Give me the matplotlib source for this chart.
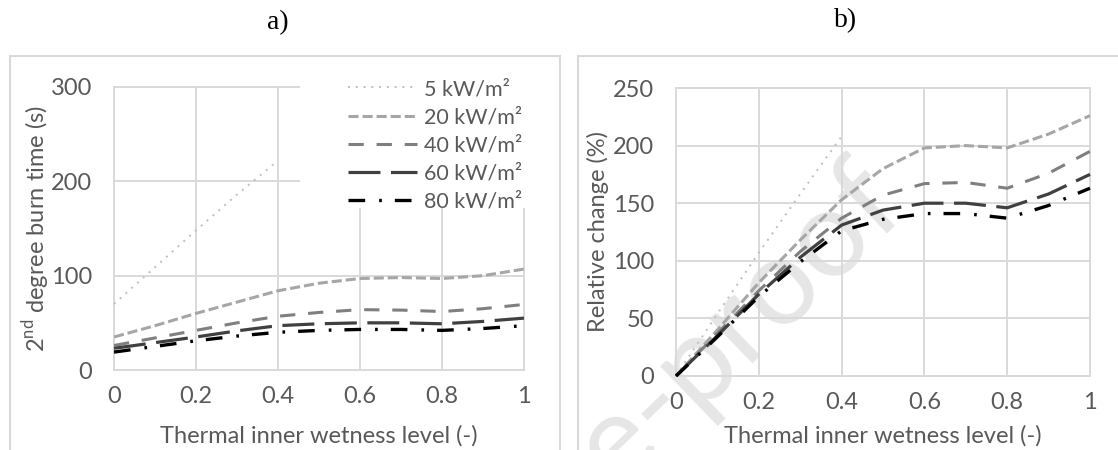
import matplotlib
matplotlib.use('Agg')
import matplotlib.pyplot as plt
from matplotlib import patches

plt.rcParams['font.family'] = ['Lato', 'DejaVu Sans']

# wetness level (x axis)
wet = [0, 0.1, 0.2, 0.3, 0.4, 0.5, 0.6, 0.7, 0.8, 0.9, 1.0]
wet_5 = [0, 0.1, 0.2, 0.3, 0.4]

labels = ['5 kW/m²', '20 kW/m²', '40 kW/m²', '60 kW/m²', '80 kW/m²']

# a) 2nd degree burn time (s)
burn_5 = [70, 109, 148, 186, 222]
burn_20 = [35, 47, 60, 72, 84, 92, 97, 98, 97, 100, 107]
burn_40 = [26, 34, 42, 50, 57, 61, 64, 63.5, 62, 65, 69.5]
burn_60 = [23, 29, 35, 41.5, 47, 49, 50, 50, 49, 51.5, 55]
burn_80 = [19, 25, 31, 36, 40, 42, 43, 43, 42, 44, 47]

# b) relative change (%)
rel_5 = [0, 54, 107, 158, 208]
rel_20 = [0, 40, 81, 118, 153, 180, 198, 200, 198, 210, 226]
rel_40 = [0, 37, 74, 108, 137, 157, 167, 168, 163, 176, 195]
rel_60 = [0, 35, 71, 103, 131, 144, 150, 150, 146, 158, 175]
rel_80 = [0, 34, 69, 99, 126, 136, 141, 141, 137, 148, 163]

styles = [
    dict(color='#bfbfbf', lw=1.4, dashes=(1, 3)),
    dict(color='#a6a6a6', lw=2.2, dashes=(3.3, 1.3)),
    dict(color='#7f7f7f', lw=2.2, dashes=(5, 4.2)),
    dict(color='#404040', lw=2.3, dashes=(10, 3.3)),
    dict(color='#000000', lw=2.4, dashes=(5, 4.2, 0.8, 3.9)),
]

W, H = 1118, 450
fig = plt.figure(figsize=(W / 100, H / 100), dpi=100)
fig.patch.set_facecolor('white')

txt = '#595959'
grid = '#d9d9d9'
fs = 17
leg_fs = 15.5


def px_axes(x0, x1, ytop, ybot):
    return [x0 / W, 1 - ybot / H, (x1 - x0) / W, (ybot - ytop) / H]


def style_axes(ax, ymax, ystep):
    ax.set_facecolor('none')
    ax.set_xlim(-0.0025, 1.0025)
    ax.set_ylim(-ymax * 0.0035, ymax * 1.0035)
    ax.set_xticks([0, 0.2, 0.4, 0.6, 0.8, 1.0])
    ax.set_xticklabels(['0', '0.2', '0.4', '0.6', '0.8', '1'])
    ax.set_yticks(range(0, ymax + 1, ystep))
    ax.grid(True, color=grid, lw=1.4, zorder=0)
    ax.set_axisbelow(True)
    for s in ax.spines.values():
        s.set_visible(False)
    ax.tick_params(length=0, labelsize=fs, labelcolor=txt)
    ax.tick_params(axis='y', pad=15)
    ax.tick_params(axis='x', pad=11)


ax1 = fig.add_axes(px_axes(113, 525, 86, 371))
ax2 = fig.add_axes(px_axes(675, 1091, 87, 377))

style_axes(ax1, 300, 100)
style_axes(ax2, 250, 50)

a_series = [burn_5, burn_20, burn_40, burn_60, burn_80]
b_series = [rel_5, rel_20, rel_40, rel_60, rel_80]
for i in range(5):
    xs = wet_5 if i == 0 else wet
    ax1.plot(xs, a_series[i], label=labels[i], zorder=3, **styles[i])
    ax2.plot(xs, b_series[i], zorder=3, **styles[i])

# white legend area covering the gridlines
ax1.add_patch(patches.Rectangle((0.454, 171.5), 0.6, 200, facecolor='white',
                                edgecolor='none', zorder=2, clip_on=False))
leg = ax1.legend(loc='upper left', bbox_to_anchor=(348 / W, 1 - 79 / H),
                 bbox_transform=fig.transFigure, frameon=False, fontsize=leg_fs,
                 borderpad=0, borderaxespad=0, handlelength=3.2,
                 handletextpad=0.33, labelspacing=0.38)
for t in leg.get_texts():
    t.set_color(txt)
leg.set_zorder(4)

ax1.set_ylabel('2$^{\\mathregular{nd}}$ degree burn time (s)', fontsize=fs, color=txt, va='center')
ax1.yaxis.set_label_coords((36 - 113) / 412, 0.5)
ax1.set_xlabel('Thermal inner wetness level (-)', fontsize=fs, color=txt, va='center')
ax1.xaxis.set_label_coords(0.5, (371 - 436) / 285)

ax2.set_ylabel('Relative change (%)', fontsize=fs, color=txt, va='center')
ax2.yaxis.set_label_coords((598 - 675) / 416, 0.5)
ax2.set_xlabel('Thermal inner wetness level (-)', fontsize=fs, color=txt, va='center')
ax2.xaxis.set_label_coords(0.5, (377 - 436) / 290)

# panel titles
fig.text(278 / W, 1 - 23 / H, 'a)', family='Liberation Serif', fontsize=20, ha='center', va='center')
fig.text(846 / W, 1 - 21 / H, 'b)', family='Liberation Serif', fontsize=20, ha='center', va='center')

# panel frames
fig.patches.append(patches.Rectangle((9.5 / W, -0.1), (560 - 9.5) / W, (H - 55.5) / H + 0.1,
                                     transform=fig.transFigure, fill=False,
                                     edgecolor=grid, lw=1.5))
fig.patches.append(patches.Rectangle((577.5 / W, -0.1), 0.6, (H - 55.5) / H + 0.1,
                                     transform=fig.transFigure, fill=False,
                                     edgecolor=grid, lw=1.5))

# watermark
fig.text(910 / W, 1 - 212 / H, 'Journal Pre-proof', fontsize=88, color='#e6e6e6',
         rotation=44, rotation_mode='anchor', ha='right', va='baseline', zorder=-1)

fig.savefig('out.png', dpi=100)
